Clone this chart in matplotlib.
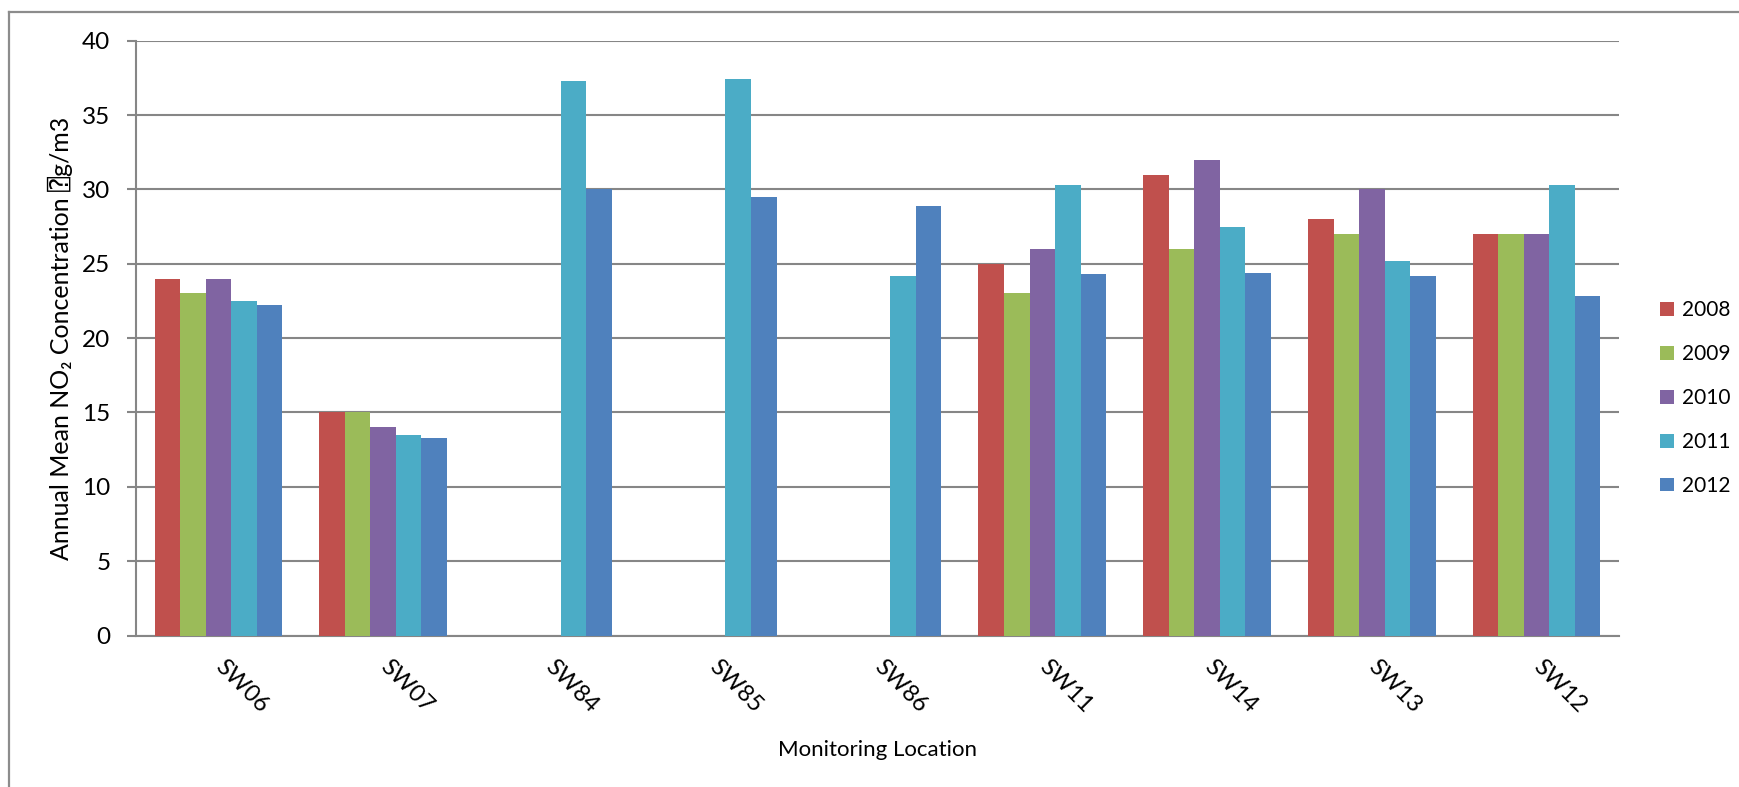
import numpy as np
import matplotlib
matplotlib.use('Agg')
import matplotlib.pyplot as plt
import matplotlib.transforms as mtransforms
from matplotlib.lines import Line2D

# annual mean NO2 per monitoring site, one list per year (nan = not monitored)
sites = ['SW06', 'SW07', 'SW84', 'SW85', 'SW86', 'SW11', 'SW14', 'SW13', 'SW12']
years = ['2008', '2009', '2010', '2011', '2012']
nan = np.nan
no2_2008 = [24.0, 15.0, nan, nan, nan, 25.0, 31.0, 28.0, 27.0]
no2_2009 = [23.0, 15.0, nan, nan, nan, 23.0, 26.0, 27.0, 27.0]
no2_2010 = [24.0, 14.0, nan, nan, nan, 26.0, 32.0, 30.0, 27.0]
no2_2011 = [22.5, 13.5, 37.3, 37.4, 24.2, 30.3, 27.5, 25.2, 30.3]
no2_2012 = [22.2, 13.3, 30.0, 29.5, 28.9, 24.3, 24.4, 24.2, 22.8]
series = [no2_2008, no2_2009, no2_2010, no2_2011, no2_2012]
colors = ['#C0504D', '#9BBB59', '#8064A2', '#4BACC6', '#4F81BD']

W, H = 1739, 787
fig = plt.figure(figsize=(W / 100, H / 100), dpi=100)
fig.patch.set_facecolor('white')

# axes box in pixel terms
left, right, top, bottom = 136, 1619, 40.7, 635.5
ax = fig.add_axes([left / W, 1 - bottom / H, (right - left) / W, (bottom - top) / H])

grey = '#868686'
x = np.arange(len(sites))
bw = 0.155
for j, (vals, col, yr) in enumerate(zip(series, colors, years)):
    ax.bar(x + (j - 2) * bw, vals, width=bw, color=col, label=yr, zorder=3, linewidth=0)

ax.set_xlim(-0.5, len(sites) - 0.5)
ax.set_ylim(0, 40)
ax.set_yticks(np.arange(0, 41, 5))
ax.yaxis.grid(True, color=grey, linewidth=1.5, zorder=0)
ax.set_axisbelow(True)

for s in ['top', 'right']:
    ax.spines[s].set_visible(False)
for s in ['left', 'bottom']:
    ax.spines[s].set_color(grey)
    ax.spines[s].set_linewidth(1.5)

ax.tick_params(axis='y', direction='out', length=6.5, width=1.5, color=grey, pad=12)
for t in ax.get_yticklabels():
    t.set_family('Lato')
    t.set_fontsize(17.5)

ax.set_xticks(x)
ax.set_xticklabels(sites, rotation=-45, ha='left', va='top', family='Lato', fontsize=17)
ax.tick_params(axis='x', length=0, pad=15)
shift = mtransforms.ScaledTranslation(-7 / 100, 0, fig.dpi_scale_trans)
for t in ax.get_xticklabels():
    t.set_transform(t.get_transform() + shift)

fig.text((left + right) / 2 / W, 1 - 750 / H, 'Monitoring Location',
         ha='center', va='center', family='Lato', fontsize=16)

fig.text(60 / W, 1 - 338 / H, 'Annual Mean NO\u2082 Concentration \u2370g/m3',
         rotation=90, ha='center', va='center', fontsize=18,
         family=['Lato', 'DejaVu Sans', 'DejaVu Sans Mono'])

leg = ax.legend(loc='upper left', bbox_to_anchor=(1660 / W, 1 - 300 / H),
                bbox_transform=fig.transFigure, frameon=False,
                prop={'family': 'Lato', 'size': 15}, handlelength=0.65,
                handleheight=0.65, handletextpad=0.4, labelspacing=1.15,
                borderpad=0, borderaxespad=0)

# outer chart border (runs off the right and bottom edges)
fig.add_artist(Line2D([9 / W, 9 / W], [1 - 11.7 / H, 0], transform=fig.transFigure,
                      color='#8C8C8C', linewidth=1.6))
fig.add_artist(Line2D([9 / W, 1], [1 - 11.7 / H, 1 - 11.7 / H], transform=fig.transFigure,
                      color='#8C8C8C', linewidth=1.6))

fig.savefig('out.png', dpi=100)
